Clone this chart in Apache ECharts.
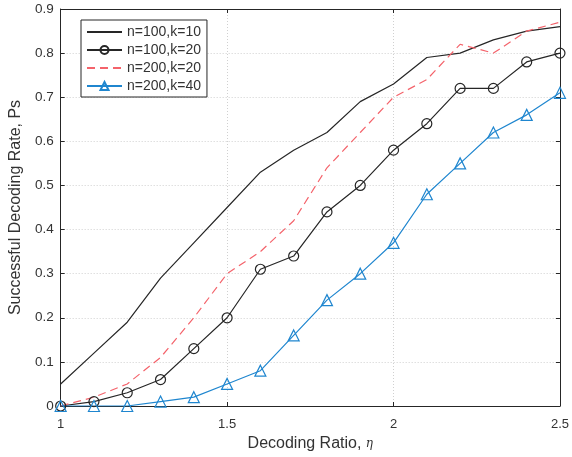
<!DOCTYPE html>
<html><head><meta charset="utf-8">
<script src="https://cdn.jsdelivr.net/npm/echarts@6/dist/echarts.min.js"></script>
<style>html,body{margin:0;padding:0;background:#fff}#c{width:572px;height:457px}</style>
</head><body><div id="c"></div>
<script>
var xValues = [1.0,1.1,1.2,1.3,1.4,1.5,1.6,1.7,1.8,1.9,2.0,2.1,2.2,2.3,2.4,2.5];
var n100k10 = [0.05,0.12,0.19,0.29,0.37,0.45,0.53,0.58,0.62,0.69,0.73,0.79,0.80,0.83,0.85,0.86];
var n100k20 = [0.00,0.01,0.03,0.06,0.13,0.20,0.31,0.34,0.44,0.50,0.58,0.64,0.72,0.72,0.78,0.80];
var n200k20 = [0.00,0.02,0.05,0.11,0.20,0.30,0.35,0.42,0.54,0.62,0.70,0.74,0.82,0.80,0.85,0.87];
var n200k40 = [0.00,0.00,0.00,0.01,0.02,0.05,0.08,0.16,0.24,0.30,0.37,0.48,0.55,0.62,0.66,0.71];
var seriesNames = ['n=100,k=10','n=100,k=20','n=200,k=20','n=200,k=40'];

function pairs(ys){ return xValues.map(function(x,i){ return [x, ys[i]]; }); }

var font = 'Liberation Sans, Arial, sans-serif';
var axisColor = '#262626';
var textColor = '#333333';
var clear = 'rgba(255,255,255,0)';
var gridLine = {show:true, lineStyle:{color:'#d0d0d0', type:[1,2], width:1}};

var chart = echarts.init(document.getElementById('c'));
chart.setOption({
  animation:false,
  grid:{left:56, right:7, top:9, bottom:48, containLabel:false},
  legend:{
    orient:'vertical', left:81, top:20, itemWidth:35, itemHeight:10, itemGap:4,
    padding:[5,6,4,5],
    borderColor:'#262626', borderWidth:1, backgroundColor:'#fff',
    textStyle:{fontFamily:font, fontSize:14, color:textColor},
    data:seriesNames
  },
  xAxis:[{
    type:'value', min:1, max:2.5, interval:0.5,
    name:'Decoding Ratio, {i|η}', nameLocation:'middle', nameGap:30,
    nameTextStyle:{fontFamily:font, fontSize:16, color:textColor,
      rich:{i:{fontFamily:'DejaVu Serif, serif', fontStyle:'italic', fontSize:12, color:textColor}}},
    axisLine:{lineStyle:{color:axisColor}},
    axisTick:{inside:true, length:4, lineStyle:{color:axisColor}},
    axisLabel:{fontFamily:font, fontSize:13, color:textColor, margin:12,
      formatter:function(v){ return String(v); }},
    splitLine:gridLine
  },{
    type:'value', min:1, max:2.5, interval:0.5, position:'top',
    axisLine:{show:true, onZero:false, lineStyle:{color:axisColor}},
    axisTick:{inside:true, length:4, lineStyle:{color:axisColor}},
    axisLabel:{show:false}, splitLine:{show:false}
  }],
  yAxis:[{
    type:'value', min:0, max:0.9, interval:0.1,
    name:'Successful Decoding Rate, Ps', nameLocation:'middle', nameGap:34,
    nameTextStyle:{fontFamily:font, fontSize:16, color:textColor},
    axisLine:{show:true, lineStyle:{color:axisColor}},
    axisTick:{show:true, inside:true, length:4, lineStyle:{color:axisColor}},
    axisLabel:{fontFamily:font, fontSize:13.5, color:textColor, margin:7,
      formatter:function(v){ return String(Math.round(v*10)/10); }},
    splitLine:gridLine
  },{
    type:'value', min:0, max:0.9, interval:0.1, position:'right',
    axisLine:{show:true, onZero:false, lineStyle:{color:axisColor}},
    axisTick:{show:true, inside:true, length:4, lineStyle:{color:axisColor}},
    axisLabel:{show:false}, splitLine:{show:false}
  }],
  series:[
    {name:seriesNames[0], type:'line', data:pairs(n100k10), symbol:'circle', showSymbol:false,
      lineStyle:{color:'#262626', width:1.2}, itemStyle:{color:clear, borderColor:clear, borderWidth:0}},
    {name:seriesNames[1], type:'line', data:pairs(n100k20), symbol:'circle', symbolSize:10,
      lineStyle:{color:'#262626', width:1.2},
      itemStyle:{color:clear, borderColor:'#262626', borderWidth:1.2}},
    {name:seriesNames[2], type:'line', data:pairs(n200k20), symbol:'circle', showSymbol:false,
      lineStyle:{color:'#f4636b', width:1.2, type:[8,5]}, itemStyle:{color:clear, borderColor:clear, borderWidth:0}},
    {name:seriesNames[3], type:'line', data:pairs(n200k40), symbol:'triangle', symbolSize:11,
      lineStyle:{color:'#1f86cf', width:1.2},
      itemStyle:{color:clear, borderColor:'#1f86cf', borderWidth:1.2}}
  ]
});
</script></body></html>
